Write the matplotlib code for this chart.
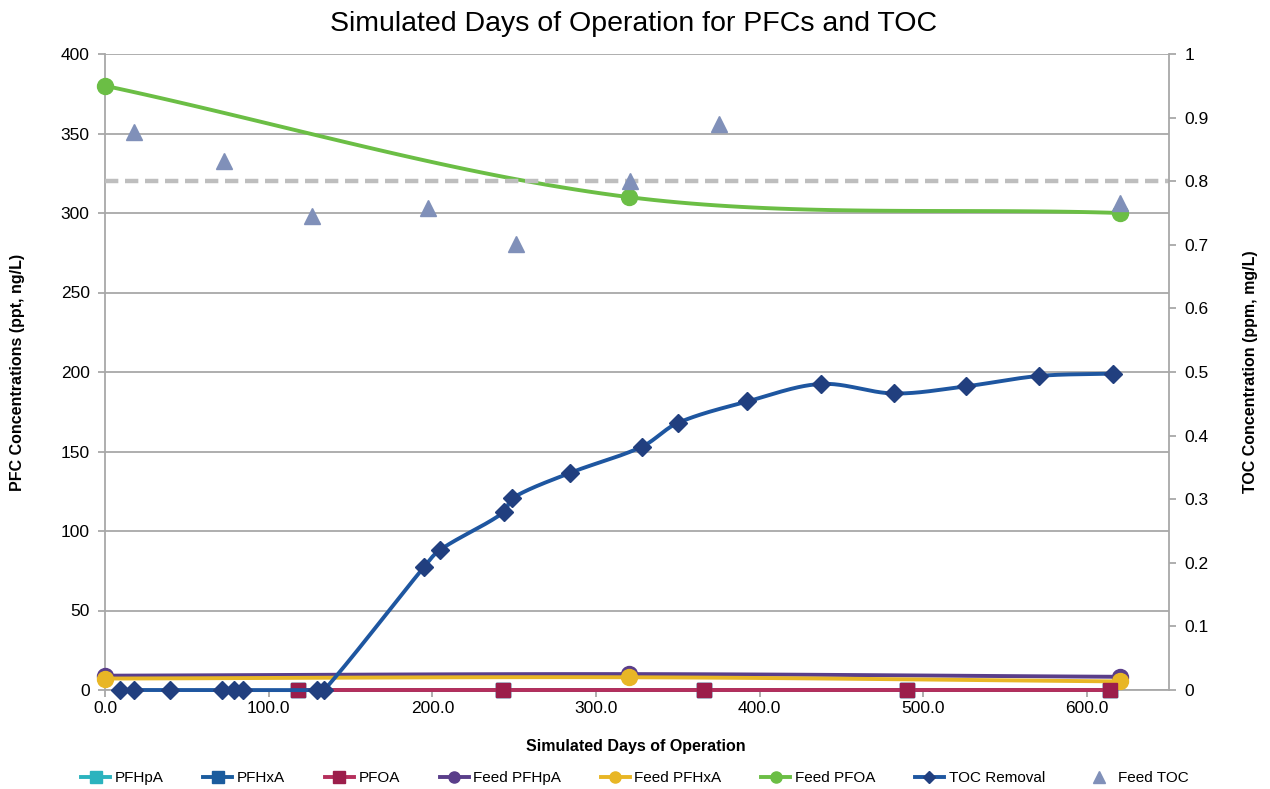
import numpy as np
import matplotlib
matplotlib.use("Agg")
import matplotlib.pyplot as plt
from matplotlib.ticker import FuncFormatter, MultipleLocator
from matplotlib.lines import Line2D

# ---------------- data ----------------
toc_days = [9, 17.5, 40, 71.5, 79, 84.5, 129.5, 134, 195, 204.5, 244, 248.5,
            284, 328, 350, 392.5, 437.5, 482, 526, 570.5, 616]
toc_removal = [0, 0, 0, 0, 0, 0, 0, 0, 77.5, 88, 112, 120.5,
               136.5, 153, 168, 181.5, 192.5, 186.5, 191, 197.5, 199]

eff_days = [118, 243, 366, 490, 614]
pfhpa = [0, 0, 0, 0, 0]
pfhxa = [0, 0, 0, 0, 0]
pfoa = [0, 0, 0, 0, 0]

feed_days = [0, 320, 620]
feed_pfhpa = [9.0, 10.0, 8.3]
feed_pfhxa = [7.2, 8.0, 5.4]
feed_pfoa = [380, 310, 300]

feed_toc_days = [17.5, 73, 126.5, 197.5, 251, 321, 375, 620]
feed_toc = [0.878, 0.832, 0.746, 0.758, 0.702, 0.800, 0.890, 0.765]
toc_mean_level = 0.8

x_ticks = [0, 100, 200, 300, 400, 500, 600]
legend_labels = ["PFHpA", "PFHxA", "PFOA", "Feed PFHpA", "Feed PFHxA",
                 "Feed PFOA", "TOC Removal", "Feed TOC"]

# ---------------- style ----------------
C_PFHPA = "#2BB3BE"
C_PFHXA = "#1B5C9E"
C_PFOA_L = "#B52F5C"
C_PFOA_M = "#9C1E4B"
C_FPFHPA = "#5A3E8A"
C_FPFHXA = "#E8B625"
C_FPFOA = "#6BBE45"
C_TOC_L = "#1E56A0"
C_TOC_M = "#213F7F"
C_FTOC = "#8090B9"
GRID = "#A8A8A8"

FONT = "Liberation Sans"

fig = plt.figure(figsize=(12.7, 7.89), dpi=100)
L, R, T, B = 105 / 1270, 1169 / 1270, 1 - 54 / 789, 1 - 690 / 789
ax = fig.add_axes([L, B, R - L, T - B])
ax2 = ax.twinx()

XMAX, YMAX = 650, 400
W_PX, H_PX = 1064, 636


def smooth(xs, ys, ymax, n=40):
    """Excel-like smoothed line through the points (rendering only)."""
    xs = np.asarray(xs, float)
    ys = np.asarray(ys, float)
    P = np.column_stack([xs / XMAX * W_PX, ys / ymax * H_PX])
    m = len(P)
    out = [P[0]]
    d = np.linalg.norm(np.diff(P, axis=0), axis=1)
    for i in range(m - 1):
        if i == 0:
            c1 = P[0] + (P[1] - P[0]) / 3
        else:
            Ti = P[i + 1] - P[i - 1]
            c1 = P[i] + Ti * d[i] / (d[i - 1] + d[i]) / 3
        if i + 1 == m - 1:
            c2 = P[i + 1] - (P[i + 1] - P[i]) / 3
        else:
            Tj = P[i + 2] - P[i]
            c2 = P[i + 1] - Tj * d[i] / (d[i] + d[i + 1]) / 3
        t = np.linspace(0, 1, n)[1:, None]
        seg = ((1 - t) ** 3) * P[i] + 3 * ((1 - t) ** 2) * t * c1 + \
            3 * (1 - t) * t ** 2 * c2 + t ** 3 * P[i + 1]
        out.extend(seg)
    out = np.array(out)
    return out[:, 0] / W_PX * XMAX, out[:, 1] / H_PX * ymax


LW = 2.8

# effluent series (all at zero)
ax.plot(eff_days, pfhpa, color=C_PFHPA, lw=LW, marker="s", ms=10,
        mfc=C_PFHPA, mec=C_PFHPA, zorder=3, clip_on=False)
ax.plot(eff_days, pfhxa, color=C_PFHXA, lw=LW, marker="s", ms=10,
        mfc=C_PFHXA, mec=C_PFHXA, zorder=3, clip_on=False)
ax.plot([eff_days[0], eff_days[-1]], [pfoa[0], pfoa[-1]], color=C_PFOA_L,
        lw=LW, zorder=4, clip_on=False)
ax.plot(eff_days, pfoa, ls="none", marker="s", ms=10, mfc=C_PFOA_M,
        mec=C_PFOA_M, zorder=6, clip_on=False)

# Feed PFHpA
sx, sy = smooth(feed_days, feed_pfhpa, YMAX)
ax.plot(sx, sy, color=C_FPFHPA, lw=LW, zorder=4, clip_on=False)
ax.plot(feed_days, feed_pfhpa, ls="none", marker="o", ms=11.5,
        mfc=C_FPFHPA, mec=C_FPFHPA, zorder=4, clip_on=False)
# Feed PFHxA
sx, sy = smooth(feed_days, feed_pfhxa, YMAX)
ax.plot(sx, sy, color=C_FPFHXA, lw=LW, zorder=5, clip_on=False)
ax.plot(feed_days, feed_pfhxa, ls="none", marker="o", ms=11.5,
        mfc=C_FPFHXA, mec=C_FPFHXA, zorder=5, clip_on=False)
# Feed PFOA
sx, sy = smooth(feed_days, feed_pfoa, YMAX)
ax.plot(sx, sy, color=C_FPFOA, lw=LW, zorder=5, clip_on=False)
ax.plot(feed_days, feed_pfoa, ls="none", marker="o", ms=11.5,
        mfc=C_FPFOA, mec=C_FPFOA, zorder=5, clip_on=False)

# TOC removal
sx, sy = smooth(toc_days, toc_removal, YMAX)
ax.plot(sx, sy, color=C_TOC_L, lw=LW, zorder=6, clip_on=False)
ax.plot(toc_days, toc_removal, ls="none", marker="D", ms=9.5,
        mfc=C_TOC_M, mec=C_TOC_M, zorder=7, clip_on=False)

# Feed TOC on right axis
ax2.plot([0, XMAX], [toc_mean_level, toc_mean_level], color="#BEBEBE",
         lw=3.2, dashes=(3.0, 1.5), zorder=2)
ax2.plot(feed_toc_days, feed_toc, ls="none", marker="^", ms=11,
         mfc=C_FTOC, mec=C_FTOC, zorder=3, clip_on=False)

# axes setup
ax.set_xlim(0, XMAX)
ax.set_ylim(0, YMAX)
ax2.set_ylim(0, 1)
ax.set_xticks(x_ticks)
ax.xaxis.set_major_formatter(FuncFormatter(lambda v, p: f"{v:.1f}"))
ax.yaxis.set_major_locator(MultipleLocator(50))
ax2.yaxis.set_major_locator(MultipleLocator(0.1))
ax2.yaxis.set_major_formatter(FuncFormatter(lambda v, p: f"{v:g}"))
ax.grid(axis="y", color=GRID, lw=1.3)
ax.set_axisbelow(True)

for a in (ax, ax2):
    for s in a.spines.values():
        s.set_color(GRID)
        s.set_linewidth(1.3)
    a.spines["top"].set_visible(False)
    a.tick_params(colors=GRID, labelcolor="black", labelsize=12.5,
                  length=5, width=1.3, direction="out")
    for lab in a.get_xticklabels() + a.get_yticklabels():
        lab.set_fontfamily(FONT)
# the secondary axes must not paint its own frame over the data
ax2.spines["bottom"].set_visible(False)
ax2.spines["left"].set_visible(False)
ax.spines["right"].set_visible(False)
ax.spines["bottom"].set_zorder(0.5)
ax.tick_params(axis="x", pad=3)
ax.tick_params(axis="y", pad=6)
ax2.tick_params(axis="y", pad=6)

# axis titles and chart title
lab_kw = dict(fontfamily=FONT, fontweight="bold", fontsize=11.5,
              ha="center", va="center")
fig.text(636 / 1270, 1 - 746 / 789, "Simulated Days of Operation", **lab_kw)
fig.text(18 / 1270, 1 - 372 / 789, "PFC Concentrations (ppt, ng/L)",
         rotation=90, **lab_kw)
fig.text(1251 / 1270, 1 - 372 / 789, "TOC Concentration (ppm, mg/L)",
         rotation=90, **lab_kw)
fig.text(634 / 1270, 1 - 24 / 789, "Simulated Days of Operation for PFCs and TOC",
         ha="center", va="center", fontfamily=FONT, fontsize=20.5)

# legend
handles = [
    Line2D([], [], color=C_PFHPA, lw=LW, marker="s", ms=8, mfc=C_PFHPA, mec=C_PFHPA),
    Line2D([], [], color=C_PFHXA, lw=LW, marker="s", ms=8, mfc=C_PFHXA, mec=C_PFHXA),
    Line2D([], [], color=C_PFOA_L, lw=LW, marker="s", ms=8, mfc=C_PFOA_M, mec=C_PFOA_M),
    Line2D([], [], color=C_FPFHPA, lw=LW, marker="o", ms=8, mfc=C_FPFHPA, mec=C_FPFHPA),
    Line2D([], [], color=C_FPFHXA, lw=LW, marker="o", ms=8, mfc=C_FPFHXA, mec=C_FPFHXA),
    Line2D([], [], color=C_FPFOA, lw=LW, marker="o", ms=8, mfc=C_FPFOA, mec=C_FPFOA),
    Line2D([], [], color=C_TOC_L, lw=LW, marker="D", ms=6, mfc=C_TOC_M, mec=C_TOC_M),
    Line2D([], [], ls="none", marker="^", ms=8, mfc=C_FTOC, mec=C_FTOC),
]
fig.legend(handles, legend_labels, loc="center",
           bbox_to_anchor=(0.5, 1 - 778 / 789),
           ncol=8, frameon=False, prop={"family": FONT, "size": 11},
           handlelength=1.9, handletextpad=0.3, columnspacing=2.6)

fig.savefig("out.png", dpi=100)
